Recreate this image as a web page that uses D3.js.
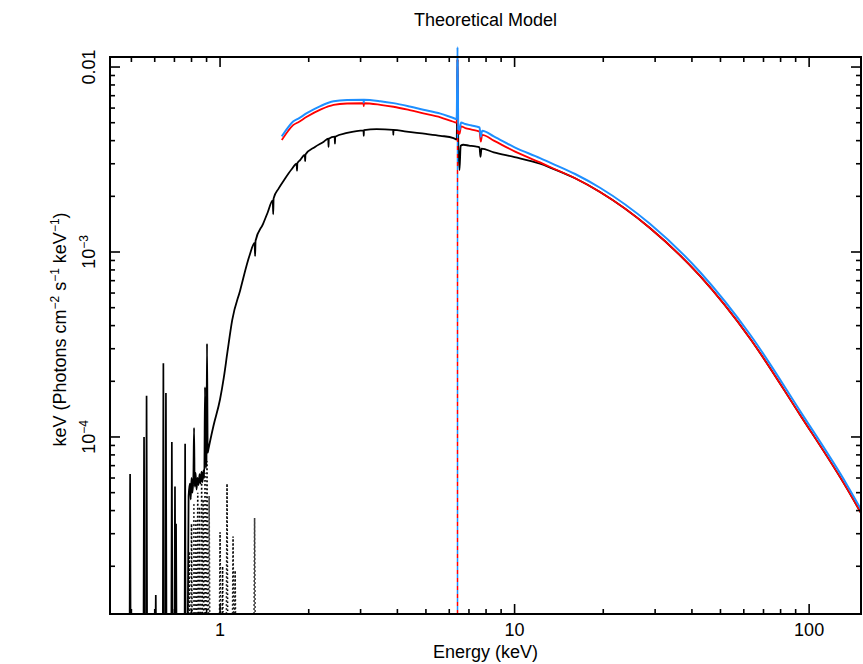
<!DOCTYPE html>
<html>
<head>
<meta charset="utf-8">
<script src="https://cdn.jsdelivr.net/npm/d3@7"></script>
<style>
  body { margin: 0; background: #fff; }
  svg { display: block; font-family: "Liberation Sans", Arial, Helvetica, sans-serif; }
</style>
</head>
<body>
<script>
// ---- data (energy in keV, keV*photons/cm2/s/keV) ----

// soft emission lines of the total model (solid black spikes)
const lineE = [0.495, 0.552, 0.563, 0.605, 0.642, 0.655, 0.686, 0.703, 0.709, 0.761]
const lineV = [6.3e-5, 1.0e-4, 1.67e-4, 1.4e-5, 2.5e-4, 1.73e-4, 9.4e-5, 5.4e-5, 3.4e-5, 9.2e-5]

// dense line forest just below 1 keV
const forestE = [0.775, 0.782, 0.79, 0.795, 0.80, 0.806, 0.812, 0.816, 0.82, 0.826, 0.832, 0.838, 0.845, 0.852, 0.858, 0.865, 0.872, 0.878, 0.884, 0.889, 0.894, 0.899, 0.903, 0.908]
const forestV = [5e-6, 4.8e-5, 5.6e-5, 4.6e-5, 6.0e-5, 5.0e-5, 6.2e-5, 1.12e-4, 5.4e-5, 6.4e-5, 5.2e-5, 6.0e-5, 5.5e-5, 6.3e-5, 5.6e-5, 6.5e-5, 5.7e-5, 6.6e-5, 6.0e-5, 1.86e-4, 6.8e-5, 7.4e-5, 3.2e-4, 8.2e-5]

// absorbed total continuum (black)
const blackE = [0.912, 0.95, 1.0, 1.03, 1.06, 1.1, 1.17, 1.26, 1.31, 1.315, 1.32, 1.40, 1.45, 1.51, 1.515, 1.52, 1.58, 1.65, 1.75, 1.82, 1.825, 1.83, 1.87, 1.94, 1.945, 1.95, 2.1, 2.25, 2.33, 2.335, 2.34, 2.45, 2.455, 2.46, 2.7, 3.07, 3.075, 3.08, 3.4, 3.87, 3.875, 3.88, 4.3, 5.0, 5.6, 6.2, 6.36, 6.40, 6.44, 6.5, 6.56, 6.7, 7.0, 7.35, 7.6, 7.66, 7.72, 8.5, 10, 12.2, 13.2, 16.05, 19.5, 28.8, 42.6, 63, 93.2, 134.6, 150]
const blackV = [8.5e-5, 1.15e-4, 1.6e-4, 2.1e-4, 2.9e-4, 4.3e-4, 6.2e-4, 9.6e-4, 1.12e-3, 9.5e-4, 1.15e-3, 1.42e-3, 1.63e-3, 1.9e-3, 1.6e-3, 1.95e-3, 2.2e-3, 2.45e-3, 2.8e-3, 3.0e-3, 2.75e-3, 3.02e-3, 3.14e-3, 3.35e-3, 3.1e-3, 3.37e-3, 3.7e-3, 3.95e-3, 4.1e-3, 3.7e-3, 4.1e-3, 4.2e-3, 3.85e-3, 4.2e-3, 4.4e-3, 4.55e-3, 4.25e-3, 4.56e-3, 4.62e-3, 4.57e-3, 4.3e-3, 4.57e-3, 4.47e-3, 4.35e-3, 4.25e-3, 4.13e-3, 4.05e-3, 0.011, 3.9e-3, 2.77e-3, 3.75e-3, 3.8e-3, 3.76e-3, 3.72e-3, 3.68e-3, 3.27e-3, 3.62e-3, 3.46e-3, 3.26e-3, 3.0e-3, 2.86e-3, 2.503e-3, 2.11e-3, 1.348e-3, 7.42e-4, 3.41e-4, 1.315e-4, 5.24e-5, 3.88e-5]

// unabsorbed models (red, blue)
const redE = [1.62, 1.7, 1.77, 1.85, 1.97, 2.2, 2.43, 2.7, 3.07, 3.075, 3.08, 3.5, 3.88, 4.4, 4.9, 5.6, 6.2, 6.36, 6.4, 6.44, 6.5, 6.58, 6.8, 7.1, 7.35, 7.6, 7.68, 7.76, 8.5, 10, 12.2, 13.2, 16.05, 19.5, 28.8, 42.6, 63, 93.2, 134.6, 150]
const redV = [4.03e-3, 4.5e-3, 4.85e-3, 5.05e-3, 5.38e-3, 5.9e-3, 6.24e-3, 6.35e-3, 6.37e-3, 6.15e-3, 6.37e-3, 6.25e-3, 6.1e-3, 5.85e-3, 5.62e-3, 5.35e-3, 5.06e-3, 5.0e-3, 0.011, 4.4e-3, 4.35e-3, 4.78e-3, 4.68e-3, 4.6e-3, 4.55e-3, 4.48e-3, 3.95e-3, 4.3e-3, 4.0e-3, 3.5e-3, 3.05e-3, 2.88e-3, 2.503e-3, 2.11e-3, 1.348e-3, 7.42e-4, 3.41e-4, 1.315e-4, 5.24e-5, 3.88e-5]
const blueV = [4.22e-3, 4.71e-3, 5.07e-3, 5.28e-3, 5.63e-3, 6.17e-3, 6.53e-3, 6.64e-3, 6.66e-3, 6.43e-3, 6.66e-3, 6.54e-3, 6.38e-3, 6.12e-3, 5.88e-3, 5.6e-3, 5.3e-3, 5.23e-3, 0.0128, 4.62e-3, 4.57e-3, 5.02e-3, 4.92e-3, 4.84e-3, 4.79e-3, 4.72e-3, 4.2e-3, 4.53e-3, 4.22e-3, 3.68e-3, 3.22e-3, 3.04e-3, 2.64e-3, 2.225e-3, 1.42e-3, 7.8e-4, 3.58e-4, 1.38e-4, 5.49e-5, 4.06e-5]

// Fe K line component (dashed)
const feE = 6.4
const fePeak = 0.011

// soft thermal component lines (dotted)
const dotE = [0.785, 0.80, 0.815, 0.828, 0.84, 0.852, 0.866, 0.876, 0.889, 0.903, 0.918, 1.0, 1.02, 1.056, 1.107, 1.125, 1.31]
const dotV = [2.4e-5, 3.4e-5, 4.4e-5, 3.6e-5, 5.0e-5, 4.2e-5, 5.8e-5, 4.6e-5, 6.4e-5, 7.4e-5, 4.8e-5, 3.05e-5, 2.0e-5, 5.6e-5, 2.9e-5, 1.9e-5, 3.65e-5]

const xDomain = [0.423, 150]
const yDomain = [1.104e-5, 0.01133]

// ---- setup ----
const width = 863, height = 664
const mL = 110, mR = 861, mT = 57, mB = 614
const floorV = 5e-6   // below the plot, spikes start here and get clipped

const svg = d3.select("body").append("svg")
    .attr("width", width)
    .attr("height", height)

const x = d3.scaleLog().domain(xDomain).range([mL, mR])
const y = d3.scaleLog().domain(yDomain).range([mB, mT])

const line = d3.line()
    .x(d => x(d[0]))
    .y(d => y(d[1]))
const smooth = d3.line()
    .x(d => x(d[0]))
    .y(d => y(d[1]))
    .curve(d3.curveMonotoneX)

const zip = (a, b) => a.map((v, i) => [v, b[i]])

const defs = svg.append("defs")
defs.append("clipPath").attr("id", "plot")
    .append("rect").attr("x", mL).attr("y", mT)
    .attr("width", mR - mL).attr("height", mB - mT)
defs.append("clipPath").attr("id", "plotUp")
    .append("rect").attr("x", mL).attr("y", 40)
    .attr("width", mR - mL + 2).attr("height", mB - 40)

const g = svg.append("g").attr("clip-path", "url(#plot)")
const gUp = svg.append("g").attr("clip-path", "url(#plotUp)")

// dotted soft component
g.selectAll("path.dot")
    .data(zip(dotE, dotV))
    .enter().append("path")
    .attr("class", "dot")
    .attr("d", d => line([[d[0] * 0.993, floorV], [d[0], d[1]], [d[0] * 1.007, floorV]]))
    .attr("fill", "none")
    .attr("stroke", "#000")
    .attr("stroke-width", 1.6)
    .attr("stroke-dasharray", "1.5,2.5")

// solid black spikes
g.selectAll("path.spike")
    .data(zip(lineE, lineV))
    .enter().append("path")
    .attr("class", "spike")
    .attr("d", d => line([[d[0] * 0.995, floorV], [d[0], d[1]], [d[0] * 1.005, floorV]]))
    .attr("fill", "none")
    .attr("stroke", "#000")
    .attr("stroke-width", 1.7)

// forest + continuum, one black path
g.append("path")
    .attr("d", smooth(zip(forestE, forestV).concat(zip(blackE, blackV))))
    .attr("fill", "none")
    .attr("stroke", "#000")
    .attr("stroke-width", 1.8)
    .attr("stroke-linejoin", "round")

// Fe line component, red and blue dashes interleaved
const feLine = [[feE, yDomain[0]], [feE, fePeak]]
g.append("path")
    .attr("d", line(feLine))
    .attr("stroke", "#ff0000")
    .attr("stroke-width", 1.5)
    .attr("stroke-dasharray", "4,4")
g.append("path")
    .attr("d", line(feLine))
    .attr("stroke", "#1e8fff")
    .attr("stroke-width", 1.5)
    .attr("stroke-dasharray", "4,4")
    .attr("stroke-dashoffset", 4)

gUp.append("path")
    .attr("d", smooth(zip(redE, redV)))
    .attr("fill", "none")
    .attr("stroke", "#ff0000")
    .attr("stroke-width", 1.8)

gUp.append("path")
    .attr("d", smooth(zip(redE, blueV)))
    .attr("fill", "none")
    .attr("stroke", "#1e8fff")
    .attr("stroke-width", 2)

// ---- frame and ticks (inward, pgplot style) ----
const isMajor = v => Math.abs(Math.log10(v) - Math.round(Math.log10(v))) < 1e-6
const xt = x.ticks()
const yt = y.ticks()

const axes = svg.append("g").attr("stroke", "#000").attr("stroke-width", 1.6)
axes.selectAll("line.xb").data(xt).enter().append("line")
    .attr("x1", d => x(d)).attr("x2", d => x(d))
    .attr("y1", mB).attr("y2", d => mB - (isMajor(d) ? 10 : 5))
axes.selectAll("line.xt").data(xt).enter().append("line")
    .attr("x1", d => x(d)).attr("x2", d => x(d))
    .attr("y1", mT).attr("y2", d => mT + (isMajor(d) ? 10 : 5))
axes.selectAll("line.yl").data(yt).enter().append("line")
    .attr("y1", d => y(d)).attr("y2", d => y(d))
    .attr("x1", mL).attr("x2", d => mL + (isMajor(d) ? 10 : 5))
axes.selectAll("line.yr").data(yt).enter().append("line")
    .attr("y1", d => y(d)).attr("y2", d => y(d))
    .attr("x1", mR).attr("x2", d => mR - (isMajor(d) ? 10 : 5))

svg.append("rect")
    .attr("x", mL).attr("y", mT)
    .attr("width", mR - mL).attr("height", mB - mT)
    .attr("fill", "none")
    .attr("stroke", "#000")
    .attr("stroke-width", 2)

// x labels
svg.selectAll("text.xl")
    .data(xt.filter(isMajor))
    .enter().append("text")
    .attr("x", d => x(d))
    .attr("y", 636)
    .attr("text-anchor", "middle")
    .attr("font-size", 18)
    .text(d => d3.format("d")(d))

// y labels, rotated
const yl = svg.selectAll("text.yl")
    .data(yt.filter(isMajor))
    .enter().append("text")
    .attr("transform", d => `translate(95,${y(d)}) rotate(-90)`)
    .attr("text-anchor", "middle")
    .attr("font-size", 18)
yl.each(function(d) {
    const e = Math.round(Math.log10(d))
    const t = d3.select(this)
    if (e === -2) { t.text("0.01"); return }
    t.append("tspan").text("10")
    t.append("tspan").attr("font-size", 12).attr("dy", -7).text("\u2212" + (-e))
})

// titles
svg.append("text")
    .attr("x", (mL + mR) / 2)
    .attr("y", 26)
    .attr("text-anchor", "middle")
    .attr("font-size", 18)
    .text("Theoretical Model")

svg.append("text")
    .attr("x", (mL + mR) / 2)
    .attr("y", 658)
    .attr("text-anchor", "middle")
    .attr("font-size", 18)
    .text("Energy (keV)")

const ttl = svg.append("text")
    .attr("transform", `translate(66,${(mT + mB) / 2 - 6}) rotate(-90)`)
    .attr("text-anchor", "middle")
    .attr("font-size", 18)
ttl.append("tspan").text("keV (Photons cm")
ttl.append("tspan").attr("font-size", 12).attr("dy", -7).text("\u22122")
ttl.append("tspan").attr("dy", 7).text(" s")
ttl.append("tspan").attr("font-size", 12).attr("dy", -7).text("\u22121")
ttl.append("tspan").attr("dy", 7).text(" keV")
ttl.append("tspan").attr("font-size", 12).attr("dy", -7).text("\u22121")
ttl.append("tspan").attr("dy", 7).text(")")
</script>
</body>
</html>
